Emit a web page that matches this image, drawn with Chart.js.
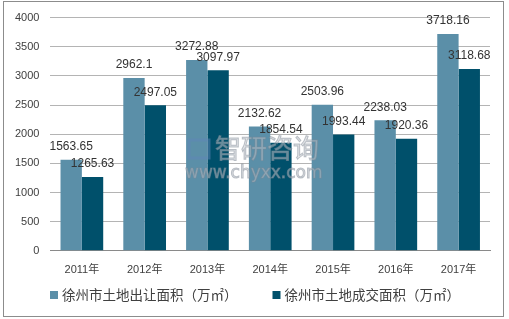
<!DOCTYPE html>
<html>
<head>
<meta charset="utf-8">
<script src="https://cdn.jsdelivr.net/npm/chart.js@4/dist/chart.umd.min.js"></script>
<style>
  html, body { margin: 0; padding: 0; background: #fff; }
  #wrap { position: relative; width: 509px; height: 319px; }
  #frame { position: absolute; left: 3px; top: 1px; width: 501px; height: 316px; border: 1px solid #8c8c8c; box-sizing: border-box; pointer-events: none; }
  canvas { display: block; }
</style>
</head>
<body>
<div id="wrap">
  <canvas id="chart" width="509" height="319"></canvas>
  <div id="frame"></div>
</div>
<script>
const years = ['2011年', '2012年', '2013年', '2014年', '2015年', '2016年', '2017年'];
const transferArea = [1563.65, 2962.1, 3272.88, 2132.62, 2503.96, 2238.03, 3718.16];
const dealArea = [1265.63, 2497.05, 3097.97, 1854.54, 1993.44, 1920.36, 3118.68];
const seriesNames = ['徐州市土地出让面积（万㎡）', '徐州市土地成交面积（万㎡）'];
const yTicks = { min: 0, max: 4000, step: 500 };

const fontFamily = "'Liberation Sans', 'Noto Sans CJK SC', sans-serif";
Chart.defaults.font.family = fontFamily;
Chart.defaults.color = '#404040';

// 柱顶数值标签
const valueLabels = {
    id: 'valueLabels',
    afterDatasetsDraw(chart) {
        const c = chart.ctx;
        c.save();
        c.font = '12px ' + fontFamily;
        c.fillStyle = '#333';
        c.textAlign = 'center';
        c.textBaseline = 'bottom';
        chart.data.datasets.forEach((ds, i) => {
            chart.getDatasetMeta(i).data.forEach((bar, j) => {
                c.fillText(String(ds.data[j]), bar.x, bar.y - 7);
            });
        });
        c.restore();
    }
};

// 底部图例（间距按原图）
const bottomLegend = {
    id: 'bottomLegend',
    afterDraw(chart) {
        const c = chart.ctx;
        const box = 8, gapText = 4, gapItem = 35, y = 295;
        c.save();
        c.font = "13.5px 'Noto Sans CJK SC', sans-serif";
        c.textBaseline = 'middle';
        c.textAlign = 'left';
        const items = chart.data.datasets.map(ds => ({
            text: ds.label, color: ds.backgroundColor, w: box + gapText + c.measureText(ds.label).width
        }));
        const total = items.reduce((s, it) => s + it.w, 0) + gapItem * (items.length - 1);
        let x = Math.round(chart.width / 2 - total / 2);
        items.forEach(it => {
            c.fillStyle = it.color;
            c.fillRect(x, y - box / 2, box, box);
            c.fillStyle = '#404040';
            c.fillText(it.text, x + box + gapText, y);
            x += it.w + gapItem;
        });
        c.restore();
    }
};

// 水印
const watermark = {
    id: 'watermark',
    afterDatasetsDraw(chart) {
        const c = chart.ctx;
        c.save();
        c.globalAlpha = 0.5;
        c.fillStyle = '#c8ccd2';
        c.strokeStyle = '#7f8a96';
        c.lineWidth = 1;
        c.font = "26px 'Noto Sans CJK SC'";
        c.textBaseline = 'middle';
        c.textAlign = 'left';
        c.fillText('智研咨询', 215, 148);
        c.strokeText('智研咨询', 215, 148);
        c.font = "17px 'DejaVu Sans'";
        c.fillText('www.chyxx.com', 185, 174);
        c.strokeText('www.chyxx.com', 185, 174);
        c.strokeStyle = '#5f86b8';
        c.lineWidth = 3;
        c.strokeRect(189, 140, 20, 18);
        c.restore();
    }
};

new Chart(document.getElementById('chart'), {
    type: 'bar',
    data: {
        labels: years,
        datasets: [{
            label: seriesNames[0],
            data: transferArea,
            backgroundColor: '#5b8fa8'
        }, {
            label: seriesNames[1],
            data: dealArea,
            backgroundColor: '#00506b'
        }]
    },
    options: {
        responsive: false,
        animation: false,
        layout: { padding: { left: 4, right: 19, top: 10, bottom: 37 } },
        datasets: {
            bar: { categoryPercentage: 0.68, barPercentage: 1.0 }
        },
        scales: {
            x: {
                grid: { display: false },
                border: { color: '#8a8a8a', width: 1 },
                ticks: { font: { size: 11 }, color: '#404040', padding: 5 }
            },
            y: {
                min: yTicks.min,
                max: yTicks.max,
                ticks: {
                    stepSize: yTicks.step,
                    font: { size: 11 },
                    color: '#404040',
                    padding: 11,
                    callback: v => String(v)
                },
                grid: { color: '#b4b4b4', drawTicks: false },
                border: { display: false }
            }
        },
        plugins: {
            legend: { display: false },
            tooltip: { enabled: false }
        }
    },
    plugins: [watermark, valueLabels, bottomLegend]
});
</script>
</body>
</html>
